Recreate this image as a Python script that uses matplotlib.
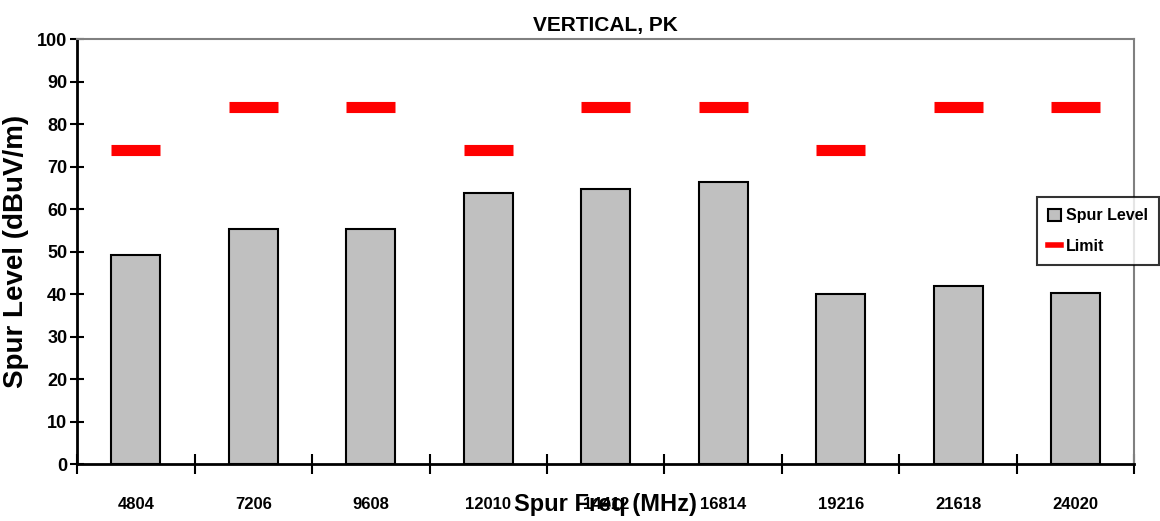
import numpy as np
import matplotlib.pyplot as plt
from matplotlib.lines import Line2D
from matplotlib.patches import Patch

freqs = ["4804", "7206", "9608", "12010", "14412", "16814", "19216", "21618", "24020"]
spur_level = [49.3, 55.3, 55.4, 63.8, 64.6, 66.4, 40.0, 42.0, 40.2]
limit = [74, 84, 84, 74, 84, 84, 74, 84, 84]

plt.rcParams['font.family'] = ['Liberation Sans', 'DejaVu Sans']
plt.rcParams['font.weight'] = 'bold'

fig = plt.figure(figsize=(11.6, 5.21), dpi=100)
ax = fig.add_axes([0.0664, 0.1094, 0.9116, 0.8156])

x = np.arange(len(freqs))
ax.bar(x, spur_level, width=0.42, color='#c0c0c0', edgecolor='black', linewidth=1.5, zorder=2)
# limit shown as thick red dashes
ax.errorbar(x, limit, xerr=0.21, fmt='none', ecolor='red', elinewidth=8, capsize=0, zorder=3)

ax.set_xlim(-0.5, len(freqs) - 0.5)
ax.set_ylim(0, 100)
ax.set_yticks(np.arange(0, 101, 10))
ax.set_xticks(np.arange(-0.5, len(freqs), 1.0))
ax.set_xticklabels([])
ax.set_xticks(x, minor=True)
ax.set_xticklabels(freqs, minor=True, fontsize=12, fontweight='bold')
ax.tick_params(axis='x', which='minor', length=0, pad=24)
ax.tick_params(axis='x', which='major', direction='inout', length=14, width=1.5)
ax.tick_params(axis='y', direction='inout', length=10, width=1.5, labelsize=13, pad=2)

for s in ['left', 'bottom']:
    ax.spines[s].set_linewidth(2)
    ax.spines[s].set_color('black')
for s in ['top', 'right']:
    ax.spines[s].set_linewidth(1.5)
    ax.spines[s].set_color('#808080')

ax.set_title("VERTICAL, PK", fontsize=15, fontweight='bold', pad=6)
ax.set_ylabel("Spur Level (dBuV/m)", fontsize=20, fontweight='bold', labelpad=6)
ax.set_xlabel("Spur Freq (MHz)", fontsize=17, fontweight='bold', labelpad=-14)

handles = [Patch(facecolor='#c0c0c0', edgecolor='black', linewidth=1.5),
           Line2D([0], [0], color='red', linewidth=4)]
leg = ax.legend(handles, ["Spur Level", "Limit"], loc='upper left',
                bbox_to_anchor=(0.908, 0.628), fontsize=11.5, frameon=True,
                fancybox=False, edgecolor='black', handlelength=0.8,
                handleheight=0.8, handletextpad=0.3, borderpad=0.7,
                labelspacing=1.0, borderaxespad=0)
leg.get_frame().set_linewidth(1.5)

fig.savefig("out.png", dpi=100)
